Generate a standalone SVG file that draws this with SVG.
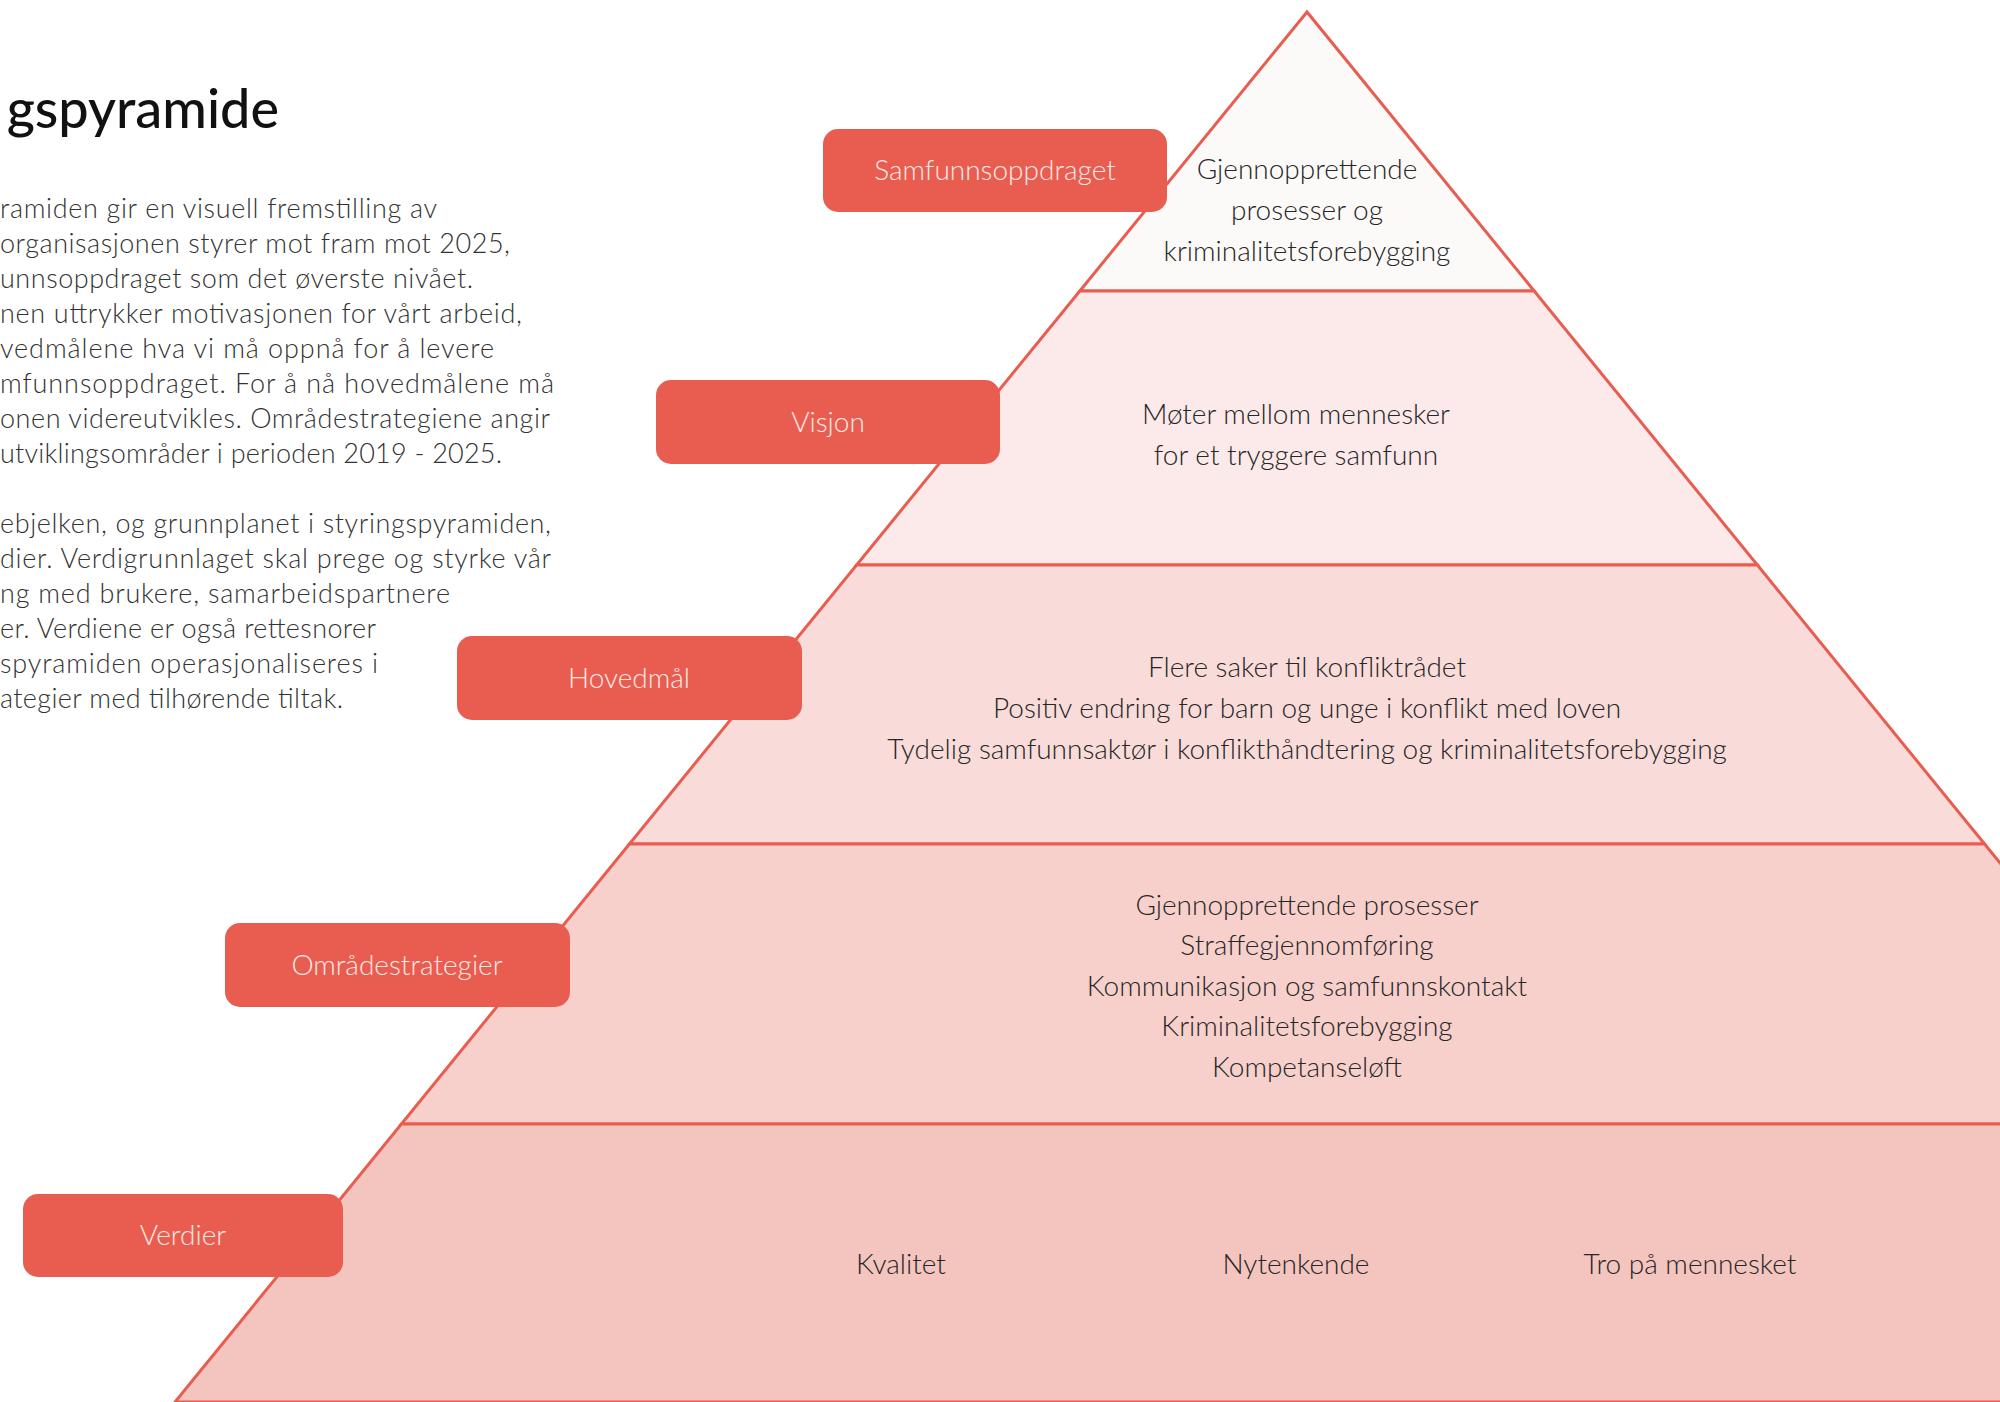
<svg xmlns="http://www.w3.org/2000/svg" width="2000" height="1402" viewBox="0 0 2000 1402">
  <style>
    .title { font-family: Lato, "Open Sans", "Liberation Sans", sans-serif; font-size: 54px; font-weight: 500; fill: #111111; }
    .body { font-family: Lato, "Open Sans", "Liberation Sans", sans-serif; font-size: 27px; font-weight: 300; fill: #333333; }
    .lvl { stroke: #E95D50; stroke-width: 3; stroke-linejoin: miter; }
    .ptext { font-family: Lato, "Open Sans", "Liberation Sans", sans-serif; font-size: 28px; font-weight: 300; fill: #262626; text-anchor: middle; }
    .lab rect { fill: #E95D50; }
    .lab text { font-family: Lato, "Open Sans", "Liberation Sans", sans-serif; font-size: 28px; font-weight: 300; fill: #FDEAE6; text-anchor: middle; }
  </style>
  <rect width="2000" height="1402" fill="#ffffff"/>

  <g id="intro">
    <text class="title" x="279" y="128" text-anchor="end">gspyramide</text>
    <g class="body" lengthAdjust="spacing">
      <text x="0" y="218" textLength="437">ramiden gir en visuell fremstilling av</text>
      <text x="0" y="253" textLength="510">organisasjonen styrer mot fram mot 2025,</text>
      <text x="0" y="288" textLength="473">unnsoppdraget som det øverste nivået.</text>
      <text x="0" y="323" textLength="522">nen uttrykker motivasjonen for vårt arbeid,</text>
      <text x="0" y="358" textLength="494">vedmålene hva vi må oppnå for å levere</text>
      <text x="0" y="393" textLength="554">mfunnsoppdraget. For å nå hovedmålene må</text>
      <text x="0" y="428" textLength="550">onen videreutvikles. Områdestrategiene angir</text>
      <text x="0" y="463" textLength="502">utviklingsområder i perioden 2019 - 2025.</text>
      <text x="0" y="533" textLength="551">ebjelken, og grunnplanet i styringspyramiden,</text>
      <text x="0" y="568" textLength="551">dier. Verdigrunnlaget skal prege og styrke vår</text>
      <text x="0" y="603" textLength="450">ng med brukere, samarbeidspartnere</text>
      <text x="0" y="638" textLength="376">er. Verdiene er også rettesnorer</text>
      <text x="0" y="673" textLength="378">spyramiden operasjonaliseres i</text>
      <text x="0" y="708" textLength="343">ategier med tilhørende tiltak.</text>
    </g>
  </g>

  <g id="pyramid">
    <g id="level-samfunnsoppdraget">
      <polygon class="lvl" fill="#FCFAF8" points="1307,12 1079.8,291 1534.2,291"/>
      <text class="ptext" x="1307" y="179">Gjennopprettende</text>
      <text class="ptext" x="1307" y="220">prosesser og</text>
      <text class="ptext" x="1307" y="261">kriminalitetsforebygging</text>
    </g>
    <g id="level-visjon">
      <polygon class="lvl" fill="#FCE9E9" points="1079.8,291 1534.2,291 1757.4,565 856.6,565"/>
      <text class="ptext" x="1296" y="424">Møter mellom mennesker</text>
      <text class="ptext" x="1296" y="465">for et tryggere samfunn</text>
    </g>
    <g id="level-hovedmal">
      <polygon class="lvl" fill="#F9DCDA" points="856.6,565 1757.4,565 1984.6,844 629.4,844"/>
      <text class="ptext" x="1307" y="677">Flere saker til konfliktrådet</text>
      <text class="ptext" x="1307" y="718">Positiv endring for barn og unge i konflikt med loven</text>
      <text class="ptext" x="1307" y="759">Tydelig samfunnsaktør i konflikthåndtering og kriminalitetsforebygging</text>
    </g>
    <g id="level-omradestrategier">
      <polygon class="lvl" fill="#F7D0CC" points="629.4,844 1984.6,844 2212.6,1124 401.4,1124"/>
      <text class="ptext" x="1307" y="915">Gjennopprettende prosesser</text>
      <text class="ptext" x="1307" y="955">Straffegjennomføring</text>
      <text class="ptext" x="1307" y="996">Kommunikasjon og samfunnskontakt</text>
      <text class="ptext" x="1307" y="1036">Kriminalitetsforebygging</text>
      <text class="ptext" x="1307" y="1077">Kompetanseløft</text>
    </g>
    <g id="level-verdier">
      <polygon class="lvl" fill="#F4C4BF" points="401.4,1124 2212.6,1124 2439,1402 175,1402"/>
      <text class="ptext" x="901" y="1274">Kvalitet</text>
      <text class="ptext" x="1296" y="1274">Nytenkende</text>
      <text class="ptext" x="1690" y="1274">Tro på mennesket</text>
    </g>
  </g>

  <g id="connectors"/>

  <g id="label-samfunnsoppdraget" class="lab">
    <rect x="823" y="129" width="344" height="83" rx="15"/>
    <text x="995" y="180">Samfunnsoppdraget</text>
  </g>
  <g id="label-visjon" class="lab">
    <rect x="656" y="380" width="344" height="84" rx="15"/>
    <text x="828" y="432">Visjon</text>
  </g>
  <g id="label-hovedmal" class="lab">
    <rect x="457" y="636" width="345" height="84" rx="15"/>
    <text x="629" y="688">Hovedmål</text>
  </g>
  <g id="label-omradestrategier" class="lab">
    <rect x="225" y="923" width="345" height="84" rx="15"/>
    <text x="397" y="975">Områdestrategier</text>
  </g>
  <g id="label-verdier" class="lab">
    <rect x="23" y="1194" width="320" height="83" rx="15"/>
    <text x="183" y="1245">Verdier</text>
  </g>
</svg>
